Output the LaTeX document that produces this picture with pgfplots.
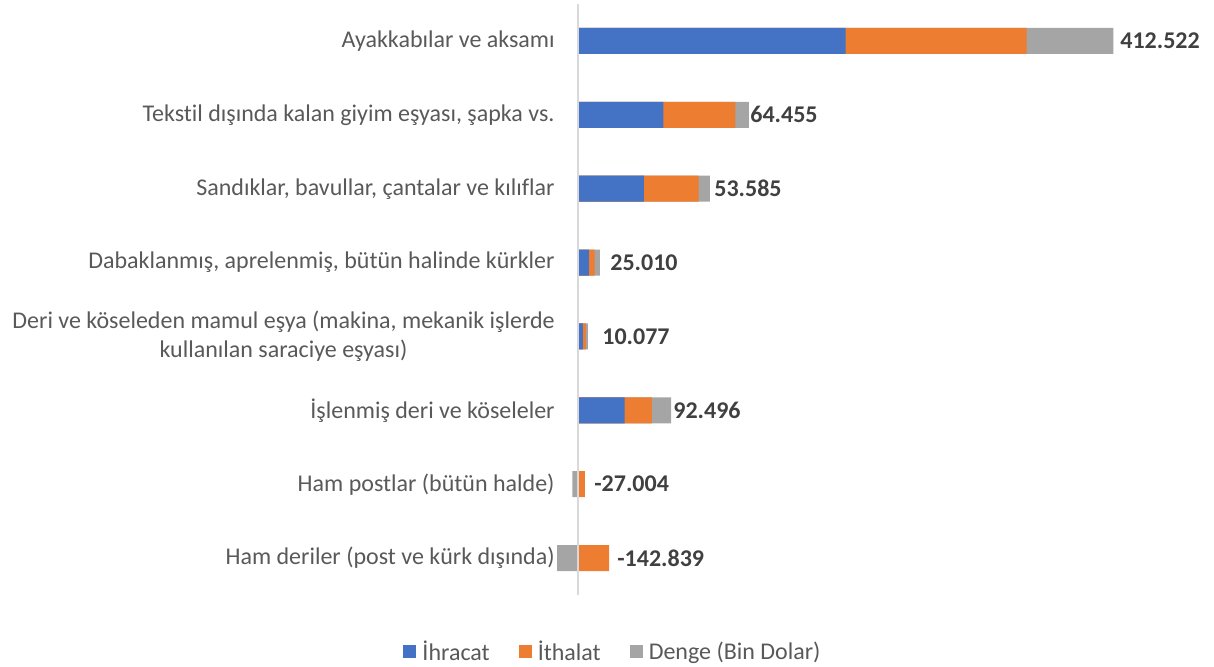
\documentclass[border=0pt]{standalone}
\usepackage{pgfplots}
\usepackage{pgfplotstable}
\pgfplotsset{compat=1.18}
\usepackage{fontspec}
\setmainfont{Carlito}[Ligatures={NoCommon}]
\definecolor{cblue}{HTML}{4472C4}
\definecolor{corange}{HTML}{ED7D31}
\definecolor{cgray}{HTML}{A5A5A5}
\definecolor{axgray}{HTML}{D9D9D9}
\definecolor{labcol}{HTML}{595959}
\definecolor{valcol}{HTML}{404040}
\pgfplotstableread{
y ihr ith den lx lab
7 1275000 862478 412522 2582000 412.522
6 407000 342545 64455 819400 64.455
5 314000 260415 53585 647900 53.585
4 52200 27190 25010 152500 25.010
3 23700 13623 10077 114300 10.077
2 222000 129504 92496 452600 92.496
1 3000 30004 -27004 76200 -27.004
0 3000 145839 -142839 185800 -142.839
}\data
\begin{document}
\begin{tikzpicture}
\path[use as bounding box] (0,0) rectangle (607pt,333pt);
\begin{axis}[
  at={(278.5pt,35.5pt)}, anchor=south west,
  scale only axis, width=325.35pt, height=295.5pt,
  xmin=-100000, xmax=3000000,
  ymin=-0.5, ymax=7.5,
  axis line style={draw=none},
  xtick=\empty,
  ytick={0,...,7},
  yticklabels={{Ham deriler (post ve kürk dışında)},{Ham postlar (bütün halde)},{İşlenmiş deri ve köseleler},{Deri ve köseleden mamul eşya (makina, mekanik işlerde\\kullanılan saraciye eşyası)},{Dabaklanmış, aprelenmiş, bütün halinde kürkler},{Sandıklar, bavullar, çantalar ve kılıflar},{Tekstil dışında kalan giyim eşyası, şapka vs.},{Ayakkabılar ve aksamı}},
  yticklabel style={align=center, anchor=east, inner sep=0pt, xshift=-1pt, font=\fontsize{12}{14.6}\selectfont, text=labcol},
  major tick length=0pt,
  tick style={draw=none},
  extra x ticks={0}, extra x tick labels={},
  extra x tick style={grid=major, major grid style={draw=axgray, line width=1pt}},
  axis on top,
  legend columns=3,
  reverse legend,
  legend style={at={(rel axis cs:0.0845,-0.0964)}, anchor=center, draw=none, fill=none, inner sep=0pt,
    font=\fontsize{12}{14}\selectfont, text=labcol,
    nodes={inner sep=0pt},
    /tikz/every odd column/.append style={column sep=3pt},
    /tikz/every even column/.append style={column sep=14.5pt}},
  legend image code/.code={\fill[#1,draw=none] (0pt,-3pt) rectangle (6.5pt,3.5pt);},
]
\addplot[xbar, bar width=13pt, bar shift=0pt, fill=cgray, draw=none]
  table[x expr={\thisrow{den}<0 ? \thisrow{den} : \thisrow{ihr}+\thisrow{ith}+\thisrow{den}}, y=y] {\data};
\addlegendentry{Denge (Bin Dolar)}
\addplot[xbar, bar width=13pt, bar shift=0pt, fill=corange, draw=none]
  table[x expr={\thisrow{ihr}+\thisrow{ith}}, y=y] {\data};
\addlegendentry{İthalat}
\addplot[xbar, bar width=13pt, bar shift=0pt, fill=cblue, draw=none]
  table[x=ihr, y=y] {\data};
\addlegendentry{İhracat}
\addplot[only marks, mark=none, forget plot, nodes near coords, point meta=explicit symbolic,
  nodes near coords style={anchor=west, inner sep=0pt, font=\fontsize{12}{14}\selectfont\bfseries, text=valcol}]
  table[x=lx, y=y, meta=lab] {\data};
\end{axis}
\end{tikzpicture}
\end{document}
